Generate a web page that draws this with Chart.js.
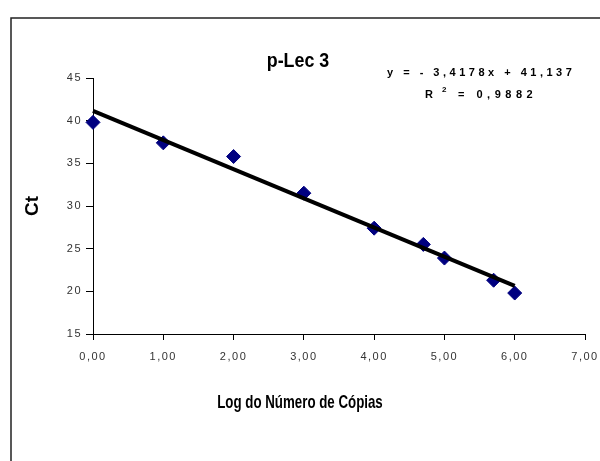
<!DOCTYPE html>
<html lang="pt">
<head>
<meta charset="utf-8">
<title>p-Lec 3</title>
<script src="https://cdn.jsdelivr.net/npm/chart.js@4.4.1/dist/chart.umd.min.js"></script>
<style>
  html, body { margin: 0; padding: 0; background: #fff; }
  #wrap { position: relative; width: 600px; height: 461px; }
</style>
</head>
<body>
<div id="wrap"><canvas id="curva"></canvas></div>
<script>
// log10 do número de cópias e Ct medido
var logCopias = [0, 1, 2, 3, 4, 4.7, 5, 5.7, 6];
var ct = [39.8, 37.4, 35.8, 31.5, 27.4, 25.5, 23.9, 21.3, 19.8];

// regressão linear (Excel)
var inclinacao = -3.4178;
var intercepto = 41.137;
var r2 = 0.9882;
var faixaReta = [0, 6];

var tituloGrafico = 'p-Lec 3';
var tituloX = 'Log do Número de Cópias';
var tituloY = 'Ct';

function virgula(v, casas) {
  return v.toFixed(casas).replace('.', ',');
}

var pontos = logCopias.map(function (x, i) { return { x: x, y: ct[i] }; });
var reta = faixaReta.map(function (x) { return { x: x, y: inclinacao * x + intercepto }; });

var SANS = '"Liberation Sans", Arial, sans-serif';

// texto condensado (imitando Arial Narrow)
function textoEstreito(ctx, txt, x, y, tam, fator) {
  ctx.save();
  ctx.font = 'bold ' + tam + 'px ' + SANS;
  ctx.translate(x, y);
  ctx.scale(fator, 1);
  ctx.fillText(txt, 0, 0);
  ctx.restore();
}

var moldura = {
  id: 'moldura',
  beforeDraw: function (chart) {
    var ctx = chart.ctx;
    ctx.save();
    ctx.fillStyle = '#fff';
    ctx.fillRect(0, 0, chart.width, chart.height);
    ctx.strokeStyle = '#222';
    ctx.lineWidth = 1.5;
    ctx.strokeRect(11, 18, chart.width + 20, chart.height + 20);
    ctx.restore();
    // espaçamento dos rótulos dos eixos
    ctx.letterSpacing = '1.5px';
  },
  afterDraw: function (chart) {
    var ctx = chart.ctx;
    var a = chart.chartArea;
    ctx.save();
    ctx.letterSpacing = '0px';
    ctx.fillStyle = '#000';
    ctx.textAlign = 'center';
    ctx.textBaseline = 'alphabetic';
    textoEstreito(ctx, tituloGrafico, 298, 67, 21, 0.85);
    textoEstreito(ctx, tituloX, 300, 408, 19, 0.7);

    ctx.save();
    ctx.translate(38, (a.top + a.bottom) / 2);
    ctx.rotate(-Math.PI / 2);
    ctx.font = 'bold 19px ' + SANS;
    ctx.fillText(tituloY, 0, 0);
    ctx.restore();

    // equação da reta
    ctx.font = 'bold 11px ' + SANS;
    ctx.letterSpacing = '3.5px';
    ctx.textAlign = 'left';
    var eq = 'y = ' + virgula(inclinacao, 4) + 'x + ' + virgula(intercepto, 3);
    eq = eq.replace('-', '- ');
    ctx.fillText(eq, 387, 76);
    ctx.letterSpacing = '4.5px';
    ctx.fillText('R', 425, 98);
    ctx.font = 'bold 8px ' + SANS;
    ctx.fillText('2', 442, 92);
    ctx.font = 'bold 11px ' + SANS;
    ctx.fillText('= ' + virgula(r2, 4), 458, 98);
    ctx.restore();
  }
};

new Chart(document.getElementById('curva'), {
  type: 'scatter',
  data: {
    datasets: [
      {
        type: 'line',
        data: reta,
        borderColor: '#000',
        borderWidth: 4,
        pointRadius: 0,
        fill: false,
        clip: false,
        order: 0
      },
      {
        data: pontos,
        pointStyle: 'rectRot',
        pointRadius: 7,
        pointHoverRadius: 7,
        backgroundColor: '#000080',
        borderColor: '#000080',
        borderWidth: 1,
        clip: false,
        order: 1
      }
    ]
  },
  options: {
    responsive: true,
    maintainAspectRatio: false,
    animation: false,
    layout: { padding: { left: 0, right: 15, top: 78, bottom: 87 } },
    plugins: { legend: { display: false }, tooltip: { enabled: false } },
    scales: {
      x: {
        type: 'linear',
        min: 0,
        max: 7,
        afterFit: function (s) {
          s.height = 40;
          s.paddingLeft = 0;
          s.paddingRight = 0;
        },
        border: { color: '#000', width: 1 },
        grid: { drawOnChartArea: false, drawTicks: true, tickLength: 6, color: '#000' },
        ticks: {
          stepSize: 1,
          padding: 10,
          color: '#333',
          font: { family: SANS, size: 11 },
          maxRotation: 0,
          callback: function (v) { return virgula(v, 2); }
        }
      },
      y: {
        min: 15,
        max: 45,
        afterFit: function (s) {
          s.width = 93;
          s.paddingTop = 0;
          s.paddingBottom = 0;
        },
        border: { color: '#000', width: 1 },
        grid: { drawOnChartArea: false, drawTicks: true, tickLength: 7, color: '#000' },
        ticks: {
          stepSize: 5,
          padding: 4,
          color: '#333',
          font: { family: SANS, size: 11 }
        }
      }
    }
  },
  plugins: [moldura]
});
</script>
</body>
</html>
